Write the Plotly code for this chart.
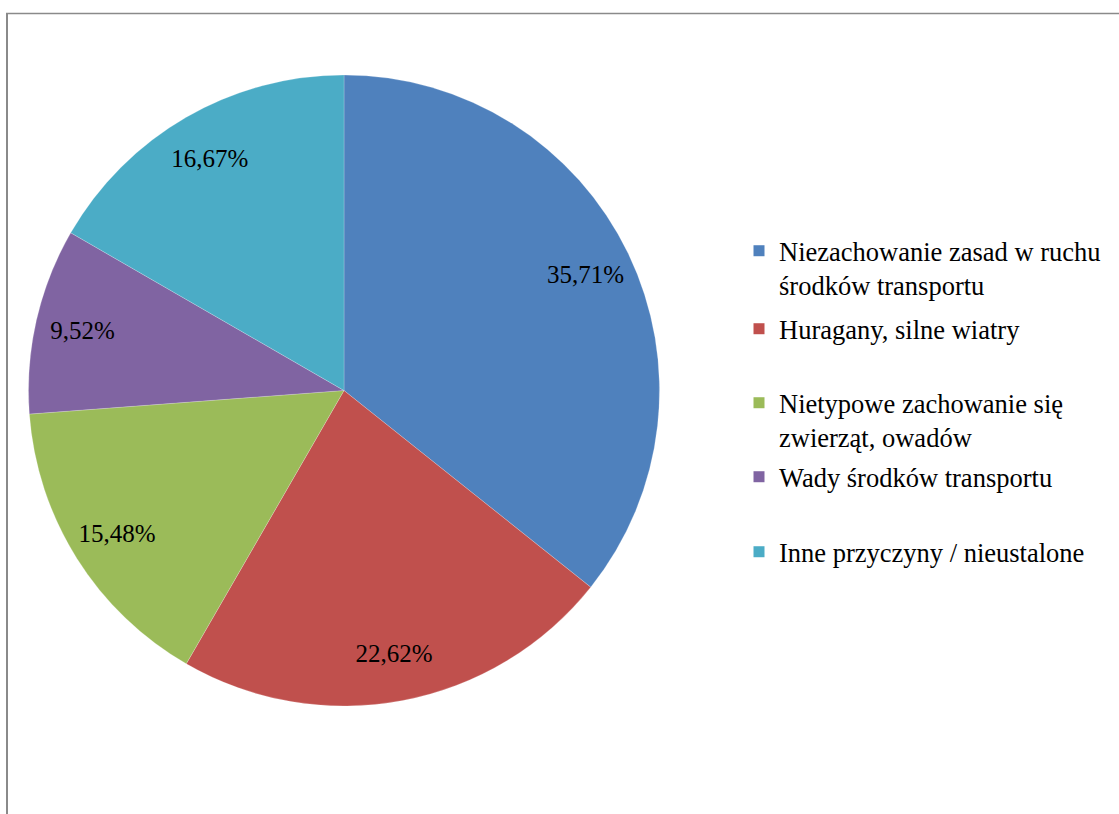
import plotly.graph_objects as go

labels = [
    "Niezachowanie zasad w ruchu<br>środków transportu",
    "Huragany, silne wiatry",
    "Nietypowe zachowanie się<br>zwierząt, owadów",
    "Wady środków transportu",
    "Inne przyczyny / nieustalone",
]
values = [35.71, 22.62, 15.48, 9.52, 16.67]
colors = ["#4F81BD", "#C0504D", "#9BBB59", "#8064A2", "#4BACC6"]

W, H = 1119, 814
cx, cy, r = 344, 390.5, 315.5
dom_x = [(cx - r) / W, (cx + r) / W]
dom_y = [1 - (cy + r) / H, 1 - (cy - r) / H]

font_family = "Liberation Serif"

fig = go.Figure()
fig.add_trace(go.Pie(
    labels=labels, values=values, sort=False, direction="clockwise", rotation=0,
    marker=dict(colors=colors, line=dict(color="rgba(255,255,255,0.4)", width=0.5)),
    textinfo="none", hoverinfo="label+percent", domain=dict(x=dom_x, y=dom_y),
    showlegend=False,
))
# transparent ring used only to place the percentage labels near the rim
fig.add_trace(go.Pie(
    labels=labels, values=values, sort=False, direction="clockwise", rotation=0,
    hole=0.7, showlegend=False, hoverinfo="skip",
    marker=dict(colors=["rgba(0,0,0,0)"] * len(values), line=dict(width=0)),
    texttemplate="%{percent:.2%}", textposition="inside",
    insidetextorientation="horizontal",
    textfont=dict(family=font_family, size=25, color="#000000"),
    domain=dict(x=dom_x, y=dom_y),
))

# legend entries (one legend box per entry, to mimic the spacing of the original)
legend_centers = [268, 329, 420, 477, 552]
legend_left = 739
layout_legends = {}
for i, (lab, col) in enumerate(zip(labels, colors)):
    name = "legend" if i == 0 else f"legend{i + 1}"
    fig.add_trace(go.Scatter(
        x=[None], y=[None], mode="markers", name=lab,
        marker=dict(symbol="square", size=11, color=col),
        legend=name, showlegend=True, hoverinfo="skip",
    ))
    layout_legends[name] = dict(
        x=legend_left / W, y=1 - legend_centers[i] / H,
        xanchor="left", yanchor="middle", valign="top",
        font=dict(family=font_family, size=26.5, color="#000000"),
        bgcolor="rgba(0,0,0,0)", borderwidth=0, itemclick=False,
        itemdoubleclick=False,
    )

fig.update_layout(
    width=W, height=H,
    margin=dict(l=0, r=0, t=0, b=0),
    paper_bgcolor="white", plot_bgcolor="white",
    separators=", ",
    font=dict(family=font_family, size=26, color="#000000"),
    xaxis=dict(visible=False), yaxis=dict(visible=False),
    shapes=[
        dict(type="line", xref="paper", yref="paper", x0=7 / W, x1=7 / W,
             y0=0, y1=1 - 13 / H, line=dict(color="#8a8a8a", width=2)),
        dict(type="line", xref="paper", yref="paper", x0=6 / W, x1=1,
             y0=1 - 13.5 / H, y1=1 - 13.5 / H, line=dict(color="#8a8a8a", width=1.5)),
    ],
    **layout_legends,
)

fig.write_html("out.html", config={"displayModeBar": False},
               post_script="document.body.style.margin='0px';")
